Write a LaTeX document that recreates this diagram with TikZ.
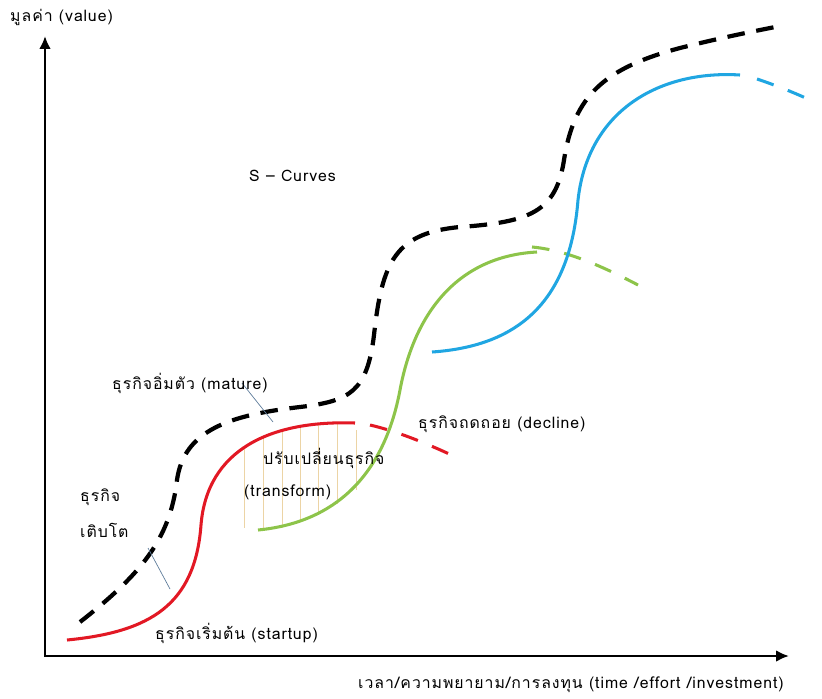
\documentclass[tikz,border=0pt]{standalone}
\usepackage{fontspec}
\newfontfamily\thaifont[Script=Thai, LetterSpace=6]{Loma}
\usepackage{xcolor}
\usetikzlibrary{arrows.meta,positioning}

\definecolor{curvered}{RGB}{226,24,36}
\definecolor{curvegreen}{RGB}{141,196,74}
\definecolor{curveblue}{RGB}{32,166,226}
\definecolor{leadergray}{RGB}{95,125,155}
\definecolor{hatchtan}{RGB}{236,212,165}

\begin{document}
\begin{tikzpicture}[x=0.03cm,y=-0.03cm]
  \tikzstyle{axis} = [draw, {Latex[length=11pt,width=10pt]}-{Latex[length=11pt,width=10pt]}, line width=2.4pt]
  \tikzstyle{envelope} = [draw, line width=3.6pt, dash pattern=on 15pt off 10pt]
  \tikzstyle{redcurve} = [draw, curvered, line width=2.6pt]
  \tikzstyle{greencurve} = [draw, curvegreen, line width=2.6pt]
  \tikzstyle{bluecurve} = [draw, curveblue, line width=2.6pt]
  \tikzstyle{fadeout} = [dash pattern=on 15pt off 13pt]
  \tikzstyle{leader} = [draw, leadergray, line width=0.6pt]
  \tikzstyle{hatch} = [draw, hatchtan, line width=0.6pt]
  \tikzstyle{label} = [font=\thaifont\fontsize{13.5}{15}\selectfont, inner sep=0pt, anchor=west]

  \useasboundingbox (0,0) rectangle (822,698);

  % axes
  \coordinate (ytop) at (45,36);
  \coordinate (origin) at (45,656);
  \coordinate (xend) at (789,656);
  \draw[axis] (ytop) -- (origin) -- (xend);

  % hatching between the old and new curve
  \foreach \x/\ya/\yb in {244/449/528, 263/438/531, 282/431/528, 300/427/522,
                          318/424/514, 337/423/504, 356/430/490}
    \draw[hatch] (\x,\ya) -- (\x,\yb);

  % envelope of all curves
  \draw[envelope] (80,622) .. controls (140,575) and (170,540) .. (177,480)
    .. controls (184,430) and (230,415) .. (300,407)
    .. controls (350,401) and (367,392) .. (374,335)
    .. controls (382,262) and (395,233) .. (460,227)
    .. controls (530,222) and (556,212) .. (564,160)
    .. controls (574,95) and (605,68) .. (680,48)
    .. controls (720,38) and (750,32) .. (775,27);

  % startup curve
  \draw[redcurve] (67,640) .. controls (150,632) and (195,605) .. (201,525)
    .. controls (207,450) and (270,420) .. (355,423);
  \draw[redcurve, fadeout] (370,425) .. controls (400,432) and (430,445) .. (458,458);

  % second curve
  \draw[greencurve] (258,530) .. controls (340,522) and (385,470) .. (400,390)
    .. controls (415,310) and (460,256) .. (537,252);
  \draw[greencurve, fadeout] (532,247) .. controls (565,250) and (600,265) .. (638,285);

  % third curve
  \draw[bluecurve] (432,352) .. controls (520,346) and (570,300) .. (578,200)
    .. controls (588,110) and (660,70) .. (740,75);
  \draw[bluecurve, fadeout] (757,79) .. controls (775,85) and (795,93) .. (810,100);

  % leader lines
  \coordinate (growtop) at (148,548);
  \coordinate (growbot) at (170,589);
  \coordinate (maturetop) at (242,383);
  \coordinate (maturebot) at (273,422);
  \draw[leader] (growtop) -- (growbot);
  \draw[leader] (maturetop) -- (maturebot);

  % labels
  \node[label] (value) at (10,17) {มูลค่า (value)};
  \node[label] (xlabel) at (358,685) {เวลา/ความพยายาม/การลงทุน (time /effort /investment)};
  \node[label] (title) at (249,176) {S – Curves};
  \node[label] (mature) at (112,383) {ธุรกิจอิ่มตัว (mature)};
  \node[label] (grow1) at (80,497) {ธุรกิจ};
  \node[label] (grow2) at (80,530) {เติบโต};
  \node[label] (startup) at (155,633) {ธุรกิจเริ่มต้น (startup)};
  \node[label] (trans1) at (263,458) {ปรับเปลี่ยนธุรกิจ};
  \node[label] (trans2) at (244,492) {(transform)};
  \node[label] (decline) at (418,424) {ธุรกิจถดถอย (decline)};
\end{tikzpicture}
\end{document}
